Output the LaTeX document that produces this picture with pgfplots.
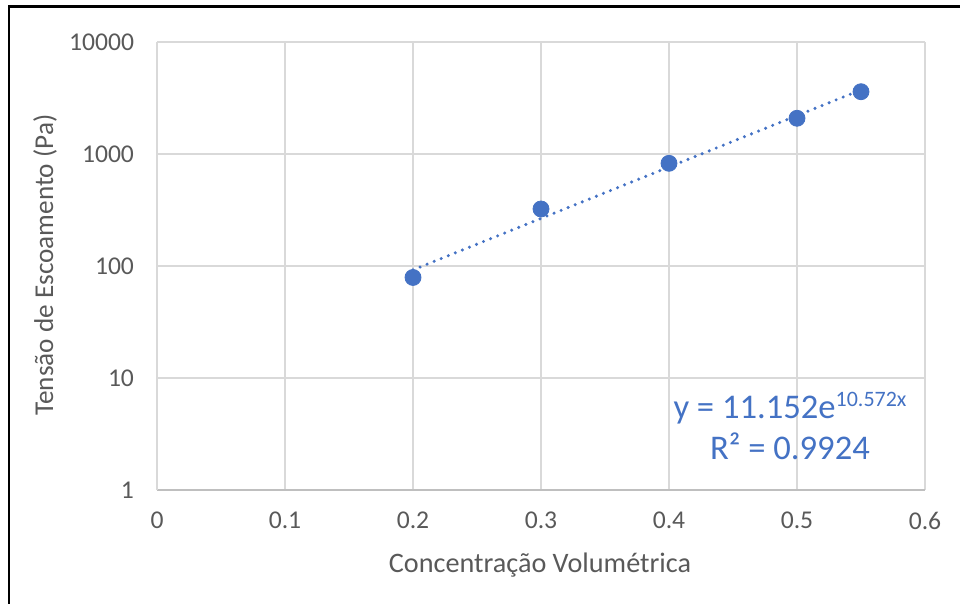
\documentclass[border=0pt]{standalone}
\usepackage{fontspec}
\setmainfont{Carlito}
\usepackage{pgfplots}
\pgfplotsset{compat=1.18}
\definecolor{tickgray}{HTML}{595959}
\definecolor{gridgray}{HTML}{D9D9D9}
\definecolor{axgray}{HTML}{BFBFBF}
\definecolor{xlblue}{HTML}{4472C4}
\begin{document}
\begin{tikzpicture}
\path[use as bounding box] (0,0) rectangle (480bp,302bp);
\draw[black,line width=1.3bp] (4.5bp,0) -- (4.5bp,298.6bp) -- (480bp,298.6bp);
\begin{axis}[
  at={(78.5bp,57bp)}, anchor=south west,
  scale only axis, width=384bp, height=224bp,
  ymode=log, xmin=0, xmax=0.6, ymin=1, ymax=10000,
  xtick={0,0.1,0.2,0.3,0.4,0.5,0.6},
  xticklabels={0,0.1,0.2,0.3,0.4,0.5,0.6},
  ytick={1,10,100,1000,10000},
  yticklabels={1,10,100,1000,10000},
  minor ytick={}, yminorgrids=false,
  major tick length=0pt, minor tick length=0pt,
  grid=major, grid style={gridgray,line width=0.8bp},
  axis line style={gridgray,line width=0.8bp},
  axis x line*=bottom, axis y line*=left,
  x axis line style={axgray},
  /pgf/number format/assume math mode=true,
  tick label style={font=\fontsize{12.8bp}{14bp}\selectfont, text=tickgray},
  yticklabel style={xshift=-8bp},
  xticklabel style={yshift=-7.5bp},
  clip=false,
]
\addplot[xlblue, line width=1.7bp, dash pattern=on 0bp off 3.8bp, line cap=round]
  coordinates {(0.2,92.4) (0.55,3737)};
\addplot[only marks, mark=*, mark size=4bp, xlblue, mark options={fill=xlblue, draw=xlblue}]
  coordinates {(0.2,79) (0.3,323) (0.4,826) (0.5,2085) (0.55,3600)};
\end{axis}
\node[rotate=90, text=tickgray, font=\fontsize{13.6bp}{15bp}\selectfont] at (22.5bp,169.5bp) {Tensão de Escoamento (Pa)};
\node[text=tickgray, font=\fontsize{14.1bp}{16bp}\selectfont] at (270bp,19.5bp) {Concentração Volumétrica};
\node[text=xlblue, font=\fontsize{17.3bp}{19.5bp}\selectfont, align=center] at (395bp,89bp)
  {y = 11.152e{\fontsize{11bp}{12bp}\selectfont\raisebox{1.05ex}{10.572x}}\\[1bp] R² = 0.9924};
\end{tikzpicture}
\end{document}
